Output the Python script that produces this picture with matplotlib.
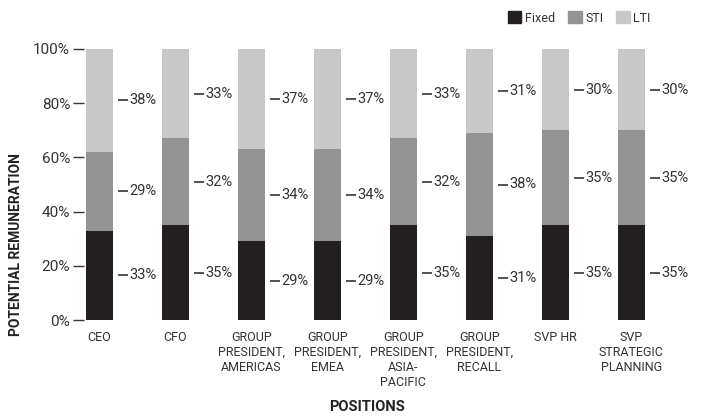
import numpy as np
import matplotlib.pyplot as plt
from matplotlib.patches import Patch

plt.rcParams['font.family'] = ['Roboto', 'DejaVu Sans']

positions = ["CEO", "CFO", "GROUP\nPRESIDENT,\nAMERICAS", "GROUP\nPRESIDENT,\nEMEA",
             "GROUP\nPRESIDENT,\nASIA-\nPACIFIC", "GROUP\nPRESIDENT,\nRECALL",
             "SVP HR", "SVP\nSTRATEGIC\nPLANNING"]
fixed = [33, 35, 29, 29, 35, 31, 35, 35]
sti = [29, 32, 34, 34, 32, 38, 35, 35]
lti = [38, 33, 37, 37, 33, 31, 30, 30]

colors = {"Fixed": "#231f20", "STI": "#939393", "LTI": "#c8c8c9"}
text_col = "#333333"


def main():
    fig = plt.figure(figsize=(7.04, 4.17), dpi=100)
    ax = fig.add_axes([84 / 704, 97 / 417, (692 - 84) / 704, 271 / 417])

    x = np.arange(len(positions))
    width = 0.355
    series = [("Fixed", np.array(fixed)), ("STI", np.array(sti)), ("LTI", np.array(lti))]

    bottom = np.zeros(len(positions))
    for name, vals in series:
        ax.bar(x, vals, width, bottom=bottom, color=colors[name], linewidth=0)
        # value labels with a short leader dash to the right of each segment
        for xi, b, v in zip(x, bottom, vals):
            yc = b + v / 2
            x0 = xi + width / 2 + 0.07
            ax.plot([x0, x0 + 0.13], [yc, yc], color=text_col, lw=1.2,
                    solid_capstyle="butt", clip_on=False)
            ax.text(x0 + 0.15, yc, f"{v}%", ha="left", va="center",
                    fontsize=10.5, color=text_col)
        bottom += vals

    ax.set_xlim(-0.2, 7.8)
    ax.set_ylim(0, 100)
    ax.set_yticks(range(0, 101, 20))
    ax.set_yticklabels([f"{t}%" for t in range(0, 101, 20)])
    ax.set_xticks(x)
    ax.set_xticklabels(positions, fontsize=9, color=text_col, linespacing=1.2)
    ax.tick_params(axis="x", length=0, pad=8)
    ax.tick_params(axis="y", length=8, width=1, color=text_col, labelcolor=text_col,
                   labelsize=11, pad=2)
    for s in ax.spines.values():
        s.set_visible(False)

    fig.text(16 / 704, 172 / 417, "POTENTIAL REMUNERATION", rotation=90, ha="center",
             va="center", fontsize=10, fontweight="bold", color="#222222")
    fig.text(367 / 704, 10 / 417, "POSITIONS", ha="center", va="center",
             fontsize=10.5, fontweight="bold", color="#222222")

    handles = [Patch(color=colors[n], label=n) for n in ["Fixed", "STI", "LTI"]]
    fig.legend(handles=handles, loc="center right", bbox_to_anchor=(662 / 704, 399 / 417),
               ncol=3, frameon=False, fontsize=9, handlelength=1.1, handleheight=1.1,
               handletextpad=0.3, columnspacing=1.0, labelcolor=text_col)

    fig.savefig("out.png", dpi=100)


if __name__ == "__main__":
    main()
